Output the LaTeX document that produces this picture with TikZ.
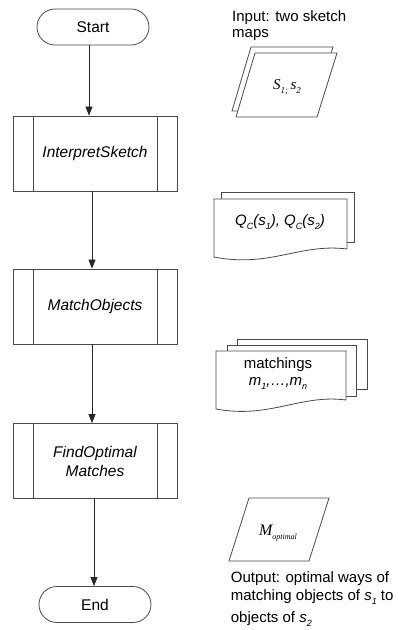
\documentclass[tikz,border=0pt]{standalone}
\usepackage{fontspec}
\setmainfont{Liberation Sans}
\newfontfamily\tnr{Liberation Serif}
\usetikzlibrary{arrows.meta}
\definecolor{ln}{HTML}{4A4A4A}
\newcommand\mysub[1]{\raisebox{-4pt}{\fontsize{9}{9}\selectfont #1}}
\begin{document}
\begin{tikzpicture}[x=1pt,y=-1pt,
  font=\fontsize{15}{17}\selectfont,
  shapeline/.style={draw=ln, line width=0.8pt},
  term/.style={shapeline, rounded corners=18pt, minimum width=112pt, minimum height=36pt, inner sep=0pt},
  procbox/.style={shapeline, minimum width=164pt, minimum height=75pt, align=center,
    font=\fontsize{15.5}{19}\selectfont\itshape,
    path picture={
      \draw[ln, line width=0.8pt] ([xshift=20pt]path picture bounding box.north west) -- ([xshift=20pt]path picture bounding box.south west);
      \draw[ln, line width=0.8pt] ([xshift=-20pt]path picture bounding box.north east) -- ([xshift=-20pt]path picture bounding box.south east);}},
  flow/.style={draw=black!85, line width=0.7pt, -{Triangle[length=9pt,width=7pt]}},
  txt/.style={inner sep=0pt},
]
\useasboundingbox (0,0) rectangle (402,630);

% left column
\node[term, font=\fontsize{15.5}{18}\selectfont] (start) at (93,27) {Start};
\node[procbox] (interp) at (95,153.5) {InterpretSketch};
\node[procbox] (match) at (95,306.5) {MatchObjects};
\node[procbox] (find) at (95,461) {FindOptimal\\Matches};
\node[term, font=\fontsize{15.5}{18}\selectfont] (end) at (95,604.5) {End};

\draw[flow] ([xshift=-4pt]start.south) -- ([xshift=-4pt]start.south |- interp.north);
\draw[flow] ([xshift=-3pt]interp.south) -- ([xshift=-3pt]interp.south |- match.north);
\draw[flow] ([xshift=-3pt]match.south) -- ([xshift=-3pt]match.south |- find.north);
\draw[flow] ([xshift=-1pt]find.south) -- ([xshift=-1pt]find.south |- end.north);

% input
\node[txt, anchor=north west, align=left, font=\fontsize{15}{16.5}\selectfont] (intext) at (232,10) {Input: two sketch\\maps};
\draw[shapeline, fill=white] (251,47) -- (333,47) -- (313,111) -- (232,111) -- cycle;
\draw[shapeline, fill=white] (255,53) -- (337,53) -- (317,117) -- (236,117) -- cycle;
\node[txt] (smaps) at (287,87) {\tnr\itshape S\mysub{1;}\,s\mysub{2}};

% Q document
\draw[shapeline, fill=white] (221,192) rectangle (354,242);
\draw[shapeline, fill=white] (214,257) -- (214,199) -- (347,199) -- (347,249)
  .. controls (300,243) and (270,268) .. (214,257) -- cycle;
\node[txt] (qtext) at (280,222) {\itshape Q\mysub{C}(s\mysub{1}), Q\mysub{C}(s\mysub{2})};

% matchings document
\draw[shapeline, fill=white] (237,339) rectangle (367,389);
\draw[shapeline, fill=white] (227,345) rectangle (356,396);
\draw[shapeline, fill=white] (216,409) -- (216,351) -- (346,351) -- (346,400)
  .. controls (300,394) and (270,419) .. (216,409) -- cycle;
\node[txt, align=center] (mtext) at (278,374) {matchings\\\itshape m\mysub{1},\dots,m\mysub{n}};

% M optimal
\draw[shapeline, fill=white] (249,498) -- (329,498) -- (309,561) -- (229,561) -- cycle;
\node[txt] (mopt) at (278,533) {\tnr\itshape\fontsize{16}{18}\selectfont M\raisebox{-4pt}{\fontsize{8}{8}\selectfont optimal}};

% output
\node[txt, anchor=north west, align=left, font=\fontsize{15}{18}\selectfont] (outtext) at (230.7,571)
  {Output: optimal ways of\\matching objects of \textit{s}\mysub{\itshape 1} to\\[4pt]objects of \textit{s}\mysub{\itshape 2}};
\end{tikzpicture}
\end{document}
